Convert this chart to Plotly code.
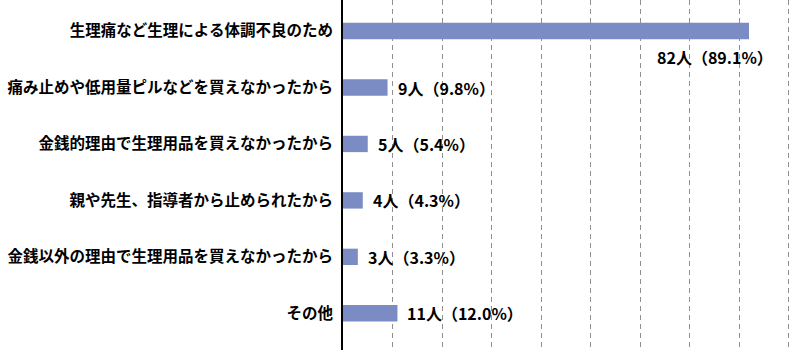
import plotly.graph_objects as go

categories = [
    "生理痛など生理による体調不良のため",
    "痛み止めや低用量ピルなどを買えなかったから",
    "金銭的理由で生理用品を買えなかったから",
    "親や先生、指導者から止められたから",
    "金銭以外の理由で生理用品を買えなかったから",
    "その他",
]
counts = [82, 9, 5, 4, 3, 11]
percents = [89.1, 9.8, 5.4, 4.3, 3.3, 12.0]
labels = [f"{c}人（{p:.1f}%）" for c, p in zip(counts, percents)]

FONT = "Noto Sans CJK JP"
BAR = "#7b8cc4"

fig = go.Figure()
fig.add_trace(go.Bar(
    y=list(range(len(categories))),
    x=counts,
    orientation="h",
    marker=dict(color=BAR, line=dict(width=0)),
    width=0.29,
    hoverinfo="skip",
))

for i, (c, lab) in enumerate(zip(counts, labels)):
    if i == 0:
        fig.add_annotation(x=c, y=i, text=lab, showarrow=False,
                           xanchor="right", yanchor="middle",
                           xshift=26, yshift=-26,
                           font=dict(family=FONT, size=16, color="black", weight="bold"))
    else:
        fig.add_annotation(x=c, y=i, text=lab, showarrow=False,
                           xanchor="left", yanchor="middle", xshift=8,
                           font=dict(family=FONT, size=16, color="black", weight="bold"))

fig.update_layout(
    width=800, height=354,
    margin=dict(l=343, r=0, t=0, b=4),
    paper_bgcolor="white", plot_bgcolor="white",
    showlegend=False,
    xaxis=dict(range=[0, 92.3], dtick=10, showticklabels=False,
               showgrid=True, gridcolor="#8f8f8f", griddash="5px,4px", gridwidth=1,
               zeroline=False, showline=False, ticks=""),
    yaxis=dict(range=[5.65, -0.55], tickmode="array",
               tickvals=list(range(len(categories))), ticktext=categories,
               tickfont=dict(family=FONT, size=15.5, color="black", weight="bold"),
               showline=True, linecolor="black", linewidth=2,
               showgrid=False, zeroline=False, ticks="", ticklabelstandoff=5),
)

fig.write_html("out.html")
